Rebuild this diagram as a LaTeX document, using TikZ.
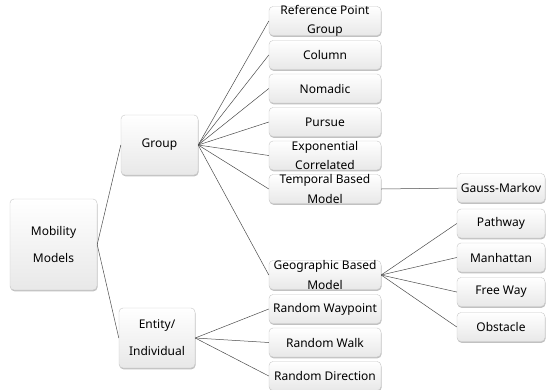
\documentclass[tikz,border=0pt]{standalone}
\usepackage{fontspec}
\setmainfont{Noto Sans}
\usetikzlibrary{shadows}

\begin{document}
\begin{tikzpicture}[x=1pt,y=-1pt]
		\tikzset{box/.style = {draw = black!22, rounded corners = 4pt, top color = white, bottom color = black!9,
				drop shadow = {shadow xshift = 0.5pt, shadow yshift = -1.3pt, opacity = 0.35, fill = black!70},
				inner sep = 0pt, align = center, font = \fontsize{12}{19.5}\selectfont},
			leaf/.style = {box, minimum width = 112pt, minimum height = 29pt, inner ysep = -4pt},
			tip/.style = {box, minimum width = 88pt, minimum height = 29pt},
			edge/.style = {black!70, line width = 0.5pt}}
		\useasboundingbox (0,0) rectangle (546,389);
		\node[box, minimum width = 87pt, minimum height = 91pt] (mob) at (53.5,244.5) {Mobility\\[7.5pt]Models};
		\node[box, minimum width = 77pt, minimum height = 60pt] (grp) at (159.5,145) {Group};
		\node[box, minimum width = 76pt, minimum height = 60pt] (ent) at (157,338) {Entity/\\[7.5pt]Individual};
		\node[leaf] (ref) at (325,21) {Reference Point\\Group};
		\node[leaf] (col) at (325,55) {Column};
		\node[leaf] (nom) at (325,88.5) {Nomadic};
		\node[leaf] (pur) at (325,122) {Pursue};
		\node[leaf] (exp) at (325,155.5) {Exponential\\Correlated};
		\node[leaf] (tmp) at (325,189) {Temporal Based\\Model};
		\node[leaf] (geo) at (325,275) {Geographic Based\\Model};
		\node[leaf] (rwp) at (325,309) {Random Waypoint};
		\node[leaf] (rwk) at (325,342.5) {Random Walk};
		\node[leaf] (rdr) at (325,376) {Random Direction};
		\node[tip] (gm) at (501,188) {Gauss-Markov};
		\node[tip] (pw) at (501,223.5) {Pathway};
		\node[tip] (mh) at (501,257.5) {Manhattan};
		\node[tip] (fw) at (501,292) {Free Way};
		\node[tip] (obs) at (501,327) {Obstacle};
		\draw[edge] (mob.east) -- (grp.west);
		\draw[edge] (mob.east) -- (ent.west);
		\foreach \n in {ref,col,nom,pur,exp,tmp,geo}
			\draw[edge] (grp.east) -- (\n.west);
		\foreach \n in {rwp,rwk,rdr}
			\draw[edge] (ent.east) -- (\n.west);
		\draw[edge] (tmp.east) -- (gm.west);
		\foreach \n in {pw,mh,fw,obs}
			\draw[edge] (geo.east) -- (\n.west);
	\end{tikzpicture}
\end{document}
